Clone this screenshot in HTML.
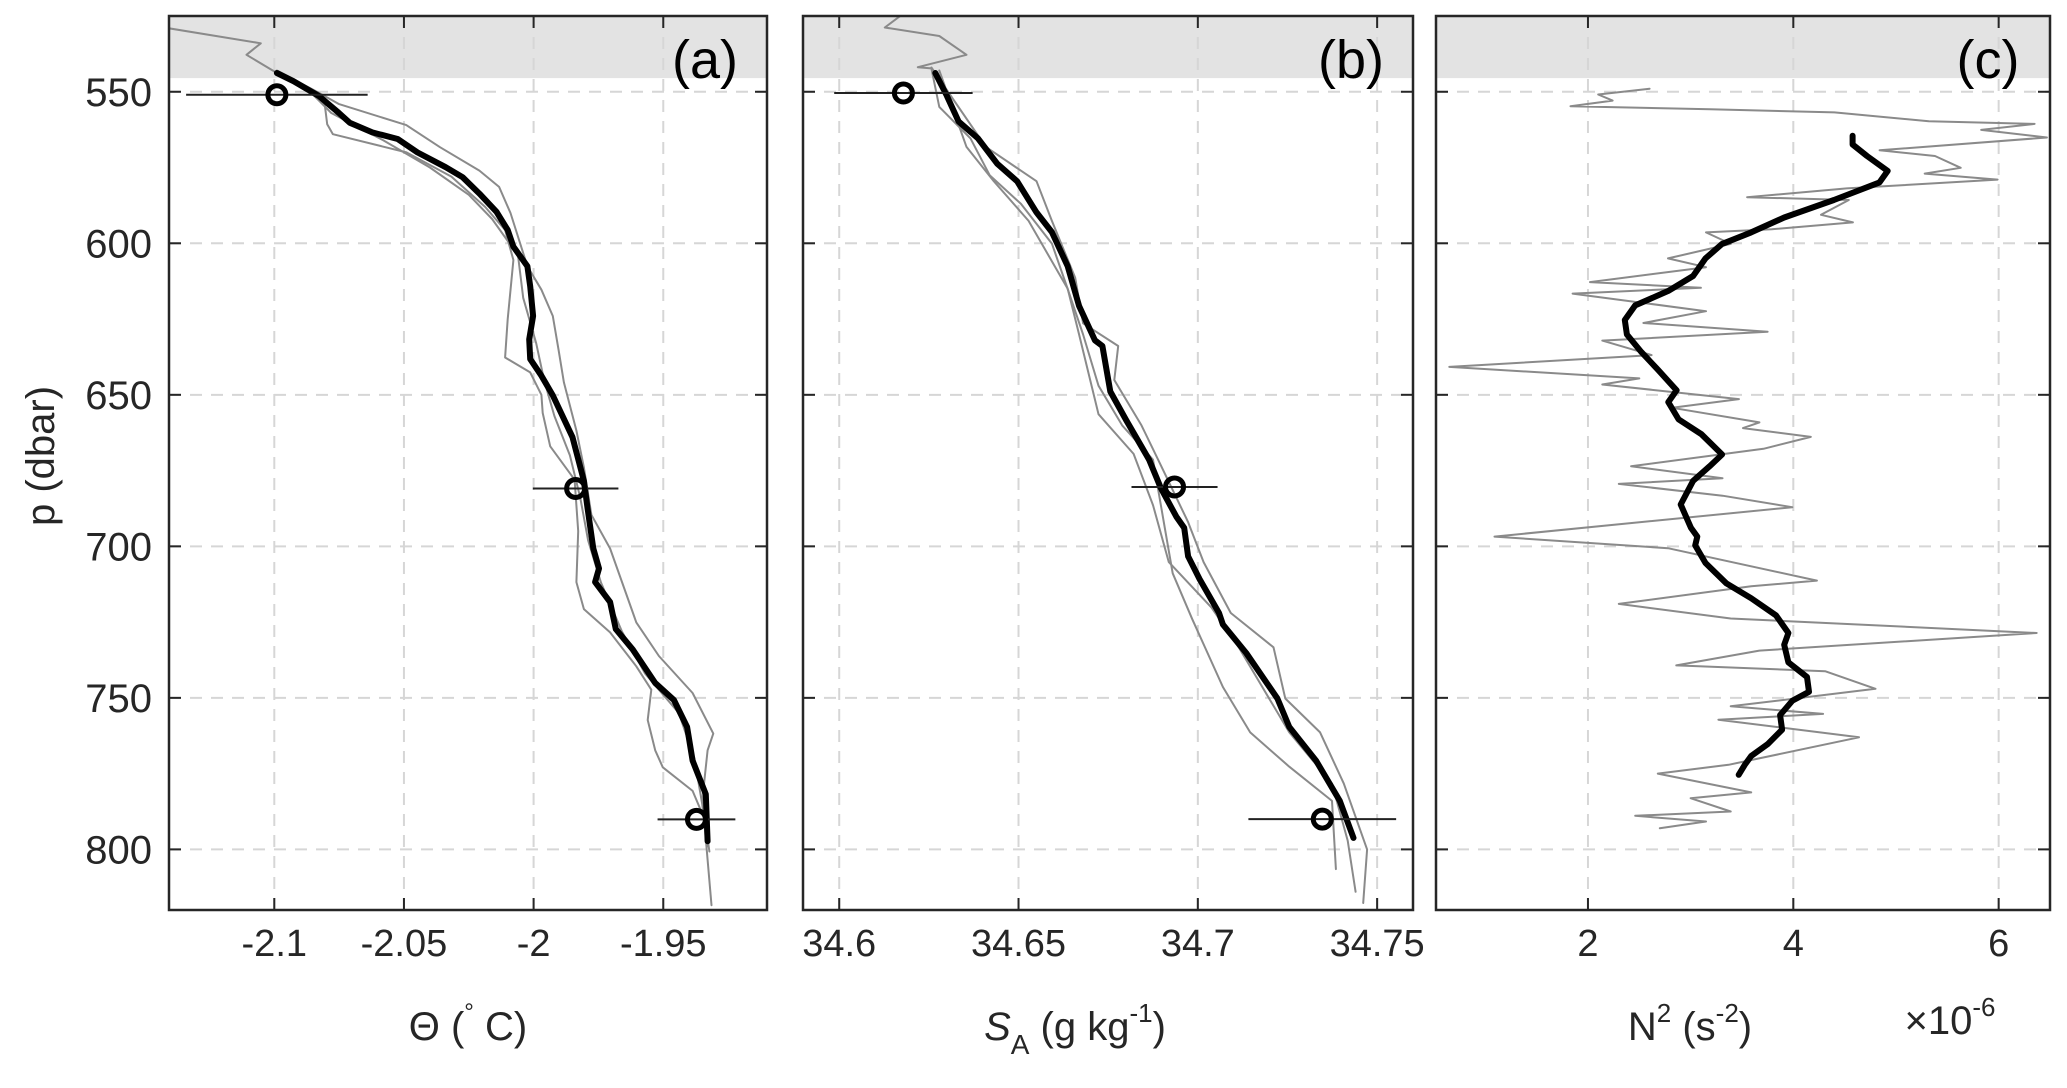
<!DOCTYPE html>
<html><head><meta charset="utf-8">
<style>
html,body{margin:0;padding:0;background:#fff;}
svg{display:block;font-family:"Liberation Sans",Arial,sans-serif;}
</style></head>
<body>
<svg id="fig" width="2067" height="1088" viewBox="0 0 2067 1088" xmlns="http://www.w3.org/2000/svg">
<g id="layer"></g>
</svg>
<script>
// ---- shared y axis data ----
const yTicks = [550, 600, 650, 700, 750, 800];
// ---- panel (a) Theta ----
const aTicks = [-2.1, -2.05, -2, -1.95];
const aTickLabels = ["-2.1", "-2.05", "-2", "-1.95"];
const aMeanT = [-2.099,-2.0926,-2.0828,-2.0752,-2.0709,-2.0622,-2.0524,-2.0448,-2.0339,-2.0274,-2.0209,-2.0143,-2.0100,-2.0078,-2.0024,-2.0013,-2.0002,-2.0017,-2.0013,-1.997,-1.9926,-1.9893,-1.985,-1.9806,-1.9792,-1.977,-1.9748,-1.9763,-1.9705,-1.9683,-1.9618,-1.9531,-1.9459,-1.9408,-1.9387,-1.9336,-1.9329];
const aMeanP = [543.8,546.5,551.4,556.9,560.2,563.4,565.6,570,574.9,578.2,583.6,589.6,595.6,601.1,607.6,614.2,624,631.7,638.2,643.7,650.2,656.2,664,678.4,687.3,700.7,707.3,711.8,718.4,727.3,734,745.1,750.7,759.6,770.7,781.8,797.3];
const aG1T = [-2.1411,-2.1052,-2.1107,-2.099,-2.0807,-2.0796,-2.0774,-2.049,-2.0317,-2.0187,-2.011,-2.0078,-2.01,-2.011,-2.0013,-1.997,-1.9965,-1.9936,-1.9842,-1.9828,-1.9835,-1.9806,-1.9705,-1.9604,-1.9546,-1.956,-1.9531,-1.9502,-1.9387,-1.9343,-1.9314];
const aG1P = [529,534,537.8,543.8,553,560.7,564,570,578,588,595.6,605.5,625,637.7,642.6,650,656,667,678,695,711.8,720.7,728.4,739.6,747.3,757.3,767.3,772.9,780.7,789.6,818.4];
const aG2T = [-2.099,-2.0839,-2.0752,-2.0491,-2.0361,-2.0209,-2.0133,-2.0089,-2.0024,-1.997,-1.9926,-1.9904,-1.9883,-1.9835,-1.9806,-1.9777,-1.9705,-1.9604,-1.9517,-1.9387,-1.9307,-1.9329,-1.935,-1.9322];
const aG2P = [543,549.8,554,561,568.3,576,581.4,590,607.6,615.3,624,635,645.9,661.8,674,689.6,700.7,725.1,736.2,748.4,761.8,767.3,784,800.7];
const aG3T = [-2.097,-2.085,-2.078,-2.058,-2.04,-2.025,-2.016,-2.006,-2.004,-1.999,-1.996,-1.992,-1.986,-1.982,-1.979,-1.974,-1.966,-1.957,-1.944,-1.938,-1.935,-1.933];
const aG3P = [545,551,557,566,575,584,592,604,618,633,645,657,670,684,698,712,728,742,755,770,785,799];
const aCircT = [-2.099, -1.9838, -1.9372];
const aCircP = [551, 680.9, 790.1];
const aErr = [0.035, 0.0165, 0.015];
// ---- panel (b) salinity ----
const bTicks = [34.6, 34.65, 34.7, 34.75];
const bTickLabels = ["34.6", "34.65", "34.7", "34.75"];
const bMeanS = [34.6268,34.63,34.6333,34.6387,34.6441,34.6496,34.655,34.6593,34.6637,34.6669,34.6713,34.6734,34.6756,34.68,34.6864,34.6897,34.694,34.6962,34.6973,34.7005,34.7059,34.707,34.7135,34.7222,34.7255,34.733,34.7396,34.7434];
const bMeanP = [543.8,551.3,559.8,565.4,573.8,579.5,589.8,596.3,607.6,620.7,632,633.9,648.9,658.3,671.4,680.8,690.2,693.9,703.3,710.8,722,725.8,735.2,750.2,759.6,770.8,784,796.2];
const bG1S = [34.617,34.6127,34.6279,34.6355,34.6219,34.6257,34.6279,34.6366,34.642,34.6507,34.6593,34.6637,34.668,34.6723,34.6789,34.6875,34.6908,34.693,34.6984,34.707,34.7146,34.7255,34.7374,34.7385];
const bG1P = [525,528.8,531.6,537.8,541.9,542.3,555,565.4,577.6,587,600.1,615.1,630.1,647,660.1,671.4,693.9,708.9,723.9,746.4,761.4,772.7,784,806.5];
const bG2S = [34.6257,34.6322,34.6409,34.655,34.6593,34.6658,34.668,34.6778,34.6767,34.6843,34.6897,34.6973,34.7016,34.7092,34.7211,34.7244,34.7341,34.7407,34.7472,34.7461];
const bG2P = [542,553.2,568.2,579.5,592.6,611.4,626.4,633.9,645.1,660.1,673.3,692,705.2,722,733.3,750.2,761.4,778.3,800,817.7];
const bG3S = [34.6279,34.6355,34.6431,34.6528,34.6637,34.6669,34.6723,34.6821,34.6875,34.6919,34.7038,34.7114,34.7255,34.7374,34.7418,34.744];
const bG3P = [543,568.2,579.5,592.6,615,630.1,656.4,669.5,686.4,705.2,720.2,733.3,761.4,778.3,797.1,814];
const bCircS = [34.6179, 34.6935, 34.7347];
const bCircP = [550.4, 680.4, 790];
const bErr = [0.0193, 0.012, 0.0206];
// ---- panel (c) N2 (x1e-6) ----
const cTicks = [2, 4, 6];
const cTickLabels = ["2", "4", "6"];
const cMeanN = [4.577,4.577,4.718,4.919,4.839,4.395,3.911,3.589,3.306,3.145,3.024,2.782,2.46,2.359,2.379,2.52,2.681,2.863,2.782,2.883,3.105,3.306,3.185,3.024,2.903,3.004,3.065,3.044,3.145,3.347,3.589,3.831,3.952,3.911,3.952,4.133,4.153,3.992,3.871,3.891,3.75,3.589,3.528,3.468];
const cMeanP = [564.5,567.4,571.2,576.1,579.9,585.7,591.5,596.4,600.2,605,610.8,615.7,620.5,625.3,630.1,635.9,641.7,648.5,652.4,658.1,663,669.7,673.6,678.4,686.2,693.9,696.8,699.7,705.5,712.2,717.1,722.8,728.6,732.5,738.3,743.1,748,750.9,755.7,760.5,765.3,769.2,772.1,775.4];
const cRawN = [2.6,2.1,2.24,1.83,3.19,4.4,5.32,6.35,5.83,6.47,4.84,5.38,5.63,5.28,5.99,4.52,3.55,4.54,4.27,4.58,3.79,3.15,3.39,2.78,3.15,2.02,3.1,1.85,3.15,2.54,3.75,2.14,2.62,0.65,2.5,2.14,3.47,2.82,3.67,3.51,4.17,3.71,2.42,3.31,2.3,3.31,3.99,1.09,2.78,4.23,3.59,2.3,3.39,6.37,3.67,2.86,4.31,4.8,3.39,4.29,3.27,4.64,3.37,2.68,3.59,3.0,3.39,2.46,3.15,2.7];
const cRawP = [549,550.9,552.9,554.8,555.8,556.8,559.7,560.6,562.6,565.1,569.3,571.2,575.1,577,579,581.9,584.8,585.7,590.6,593.1,595.4,596.4,600.2,605,607.9,612.8,614.7,616.6,622.4,626.3,629.2,632.1,636.9,640.8,644.6,646.6,651.4,654.3,659.1,661,663.9,667.8,673.6,677.5,679.4,683.3,687.1,696.8,700.6,711.3,713.2,719,723.8,728.6,734.4,739.3,741.2,747,752.8,755.3,757.2,763,772.1,775,781.2,783.1,787.5,788.9,790.8,793];

const NS = "http://www.w3.org/2000/svg";
const layer = document.getElementById('layer');
const TOP = 16, BOT = 910, PMIN = 525, PMAX = 820, SHADE = 545.5;
function yS(p){ return TOP + (p - PMIN) / (PMAX - PMIN) * (BOT - TOP); }
function mk(tag, attrs, parent){
  const e = document.createElementNS(NS, tag);
  for (const k in attrs) e.setAttribute(k, attrs[k]);
  (parent || layer).appendChild(e);
  return e;
}
function txt(str, x, y, size, anchor, parent){
  const t = mk('text', {x:x, y:y, 'font-size':size, 'text-anchor':anchor||'middle', fill:'#262626'}, parent);
  t.textContent = str;
  return t;
}
function polyline(xs, ys, fx, stroke, w, parent){
  let d = '';
  for (let i = 0; i < xs.length; i++) d += (i ? 'L' : 'M') + fx(xs[i]).toFixed(1) + ',' + yS(ys[i]).toFixed(1);
  return mk('path', {d:d, fill:'none', stroke:stroke, 'stroke-width':w, 'stroke-linejoin':'round', 'stroke-linecap':'round'}, parent);
}
function panel(cfg){
  const L = cfg.L, R = cfg.R;
  const fx = v => L + (v - cfg.xmin) / (cfg.xmax - cfg.xmin) * (R - L);
  const g = mk('g', {});
  
  
  const clipId = 'clip-' + cfg.name;
  const cp = mk('clipPath', {id: clipId}, g);
  mk('rect', {x:L, y:TOP, width:R-L, height:BOT-TOP}, cp);
  const shade = mk('rect', {x:L, y:TOP, width:R-L, height:yS(SHADE)-TOP, fill:'#e3e3e3'}, g);
  
  
  // grid
  cfg.ticks.forEach(v => {
    const gl = mk('line', {x1:fx(v), x2:fx(v), y1:TOP, y2:BOT, stroke:'#d6d6d6', 'stroke-width':2, 'stroke-dasharray':'12,9'}, g);
    
    
  });
  yTicks.forEach(p => {
    const gl = mk('line', {x1:L, x2:R, y1:yS(p), y2:yS(p), stroke:'#d6d6d6', 'stroke-width':2, 'stroke-dasharray':'12,9'}, g);
    
    
  });
  const data = mk('g', {'clip-path':'url(#' + clipId + ')'}, g);
  
  
  cfg.grays.forEach(s => {
    const l = polyline(s[0], s[1], fx, '#8a8a8a', 2, data);
    
    
  });
  const m = polyline(cfg.mean[0], cfg.mean[1], fx, '#000', 6, data);
  
  
  if (cfg.circ) {
    for (let i = 0; i < cfg.circ[0].length; i++) {
      const cx = fx(cfg.circ[0][i]), cy = yS(cfg.circ[1][i]);
      const eb = mk('line', {x1:fx(cfg.circ[0][i]-cfg.err[i]), x2:fx(cfg.circ[0][i]+cfg.err[i]), y1:cy, y2:cy, stroke:'#222', 'stroke-width':2}, data);
      
      
      const c = mk('circle', {cx:cx, cy:cy, r:9, fill:'none', stroke:'#000', 'stroke-width':5}, data);
      
      
    }
  }
  // ticks
  cfg.ticks.forEach((v, i) => {
    mk('line', {x1:fx(v), x2:fx(v), y1:BOT, y2:BOT-12, stroke:'#262626', 'stroke-width':2}, g);
    mk('line', {x1:fx(v), x2:fx(v), y1:TOP, y2:TOP+12, stroke:'#262626', 'stroke-width':2}, g);
    const t = txt(cfg.labels[i], fx(v), 956, 38, 'middle', g);
    
    
  });
  yTicks.forEach(p => {
    mk('line', {x1:L, x2:L+12, y1:yS(p), y2:yS(p), stroke:'#262626', 'stroke-width':2}, g);
    mk('line', {x1:R, x2:R-12, y1:yS(p), y2:yS(p), stroke:'#262626', 'stroke-width':2}, g);
  });
  const box = mk('rect', {x:L, y:TOP, width:R-L, height:BOT-TOP, fill:'none', stroke:'#262626', 'stroke-width':2.5}, g);
  
  
  const pl = txt(cfg.tag, R - 62, 78, 54, 'middle', g);
  pl.setAttribute('fill', '#000');
  
  
  return g;
}

panel({name:'panel-a-theta', L:169, R:767, xmin:-2.1406, xmax:-1.9100, ticks:aTicks, labels:aTickLabels,
  grays:[[aG1T,aG1P],[aG2T,aG2P],[aG3T,aG3P]], mean:[aMeanT,aMeanP], circ:[aCircT,aCircP], err:aErr, tag:'(a)'});
panel({name:'panel-b-salinity', L:803, R:1413, xmin:34.5899, xmax:34.7600, ticks:bTicks, labels:bTickLabels,
  grays:[[bG1S,bG1P],[bG2S,bG2P],[bG3S,bG3P]], mean:[bMeanS,bMeanP], circ:[bCircS,bCircP], err:bErr, tag:'(b)'});
panel({name:'panel-c-n2', L:1436, R:2050, xmin:0.52, xmax:6.5, ticks:cTicks, labels:cTickLabels,
  grays:[[cRawN,cRawP]], mean:[cMeanN,cMeanP], circ:null, err:null, tag:'(c)'});

// y tick labels
yTicks.forEach(p => {
  const t = txt(String(p), 152, yS(p) + 14, 40, 'end');
  
  
});
// y axis title
const yt = txt('p (dbar)', 0, 0, 40, 'middle');
yt.setAttribute('transform', 'translate(54,456) rotate(-90)');



// x axis titles
const xa = mk('text', {x:468, y:1040, 'font-size':40, 'text-anchor':'middle', fill:'#262626'});


xa.innerHTML = 'Θ (<tspan font-size="24" dy="-20">°</tspan><tspan dy="20"> C)</tspan>';
const xb = mk('text', {x:1075, y:1040, 'font-size':40, 'text-anchor':'middle', fill:'#262626'});


xb.innerHTML = '<tspan font-style="italic">S</tspan><tspan font-size="28" dy="14">A</tspan><tspan dy="-14"> (g kg</tspan><tspan font-size="26" dy="-18">-1</tspan><tspan dy="18">)</tspan>';
const xc = mk('text', {x:1690, y:1040, 'font-size':40, 'text-anchor':'middle', fill:'#262626'});


xc.innerHTML = 'N<tspan font-size="26" dy="-18">2</tspan><tspan dy="18"> (s</tspan><tspan font-size="26" dy="-18">-2</tspan><tspan dy="18">)</tspan>';
const xm = mk('text', {x:1950, y:1034, 'font-size':40, 'text-anchor':'middle', fill:'#262626'});


xm.innerHTML = '×10<tspan font-size="26" dy="-18">-6</tspan>';
</script>
</body></html>
